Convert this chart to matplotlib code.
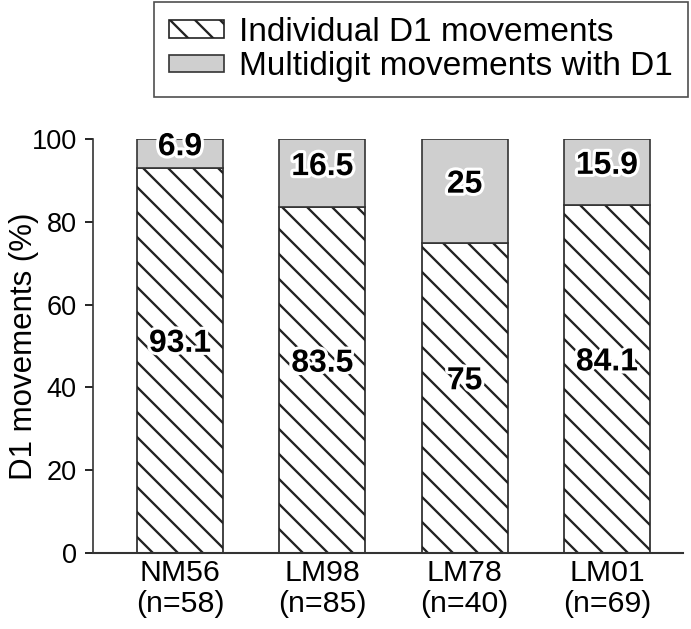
import numpy as np
import matplotlib.pyplot as plt
import matplotlib.patheffects as pe
from matplotlib.patches import Patch

plt.rcParams['font.family'] = ['Liberation Sans', 'DejaVu Sans']
plt.rcParams['hatch.linewidth'] = 1.1
plt.rcParams['hatch.color'] = '#111111'

groups = ["NM56", "LM98", "LM78", "LM01"]
counts = [58, 85, 40, 69]
individual = [93.1, 83.5, 75, 84.1]
multidigit = [6.9, 16.5, 25, 15.9]

DPI = 150
fig = plt.figure(figsize=(691 / DPI, 629 / DPI), dpi=DPI)
ax = fig.add_axes([0.1346, 0.1208, 0.8538, 0.658])

x = np.arange(len(groups))
w = 0.604
ax.bar(x, individual, w, color='white', edgecolor='#222222', hatch='\\\\',
       linewidth=0.8)
ax.bar(x, multidigit, w, bottom=individual, color='#cfcfcf',
       edgecolor='#333333', linewidth=0.8)

# value labels with white outline
stroke = [pe.withStroke(linewidth=3, foreground='white')]
for xi, a, b in zip(x, individual, multidigit):
    ax.text(xi, a / 2 + 4, f"{a:g}", ha='center', va='center',
            fontsize=15.3, fontweight='bold', path_effects=stroke)
    ax.text(xi, a + b / 2 + 1.5, f"{b:g}", ha='center', va='center',
            fontsize=15.3, fontweight='bold', path_effects=stroke)

ax.set_xlim(-0.611, 3.534)
ax.set_ylim(0, 100)
ax.set_yticks(range(0, 101, 20))
ax.set_xticks(x)
ax.set_xticklabels([f"{g}\n(n={n})" for g, n in zip(groups, counts)],
                   linespacing=1.12)
ax.tick_params(axis='x', length=0, pad=3, labelsize=14.5)
ax.tick_params(axis='y', length=3.8, width=0.8, pad=4, labelsize=13)
ax.spines['top'].set_visible(False)
ax.spines['right'].set_visible(False)
ax.spines['left'].set_color('#333333')
ax.spines['bottom'].set_color('#333333')
ax.spines['left'].set_linewidth(0.8)
ax.spines['bottom'].set_linewidth(1.0)
ax.set_ylabel("D1 movements (%)", fontsize=15)
ax.yaxis.set_label_coords(-0.092, 0.5)

handles = [Patch(facecolor='white', edgecolor='#222222', hatch='\\\\', linewidth=0.8),
           Patch(facecolor='#cfcfcf', edgecolor='#333333', linewidth=0.8)]
leg = fig.legend(handles, ["Individual D1 movements", "Multidigit movements with D1"],
                 loc='upper right', bbox_to_anchor=(0.9957, 0.9968), borderaxespad=0,
                 fontsize=16, frameon=True, fancybox=False, edgecolor='#222222',
                 handlelength=1.65, handleheight=0.45, labelspacing=0.1,
                 borderpad=0.45, handletextpad=0.45)
leg.get_frame().set_linewidth(0.8)

fig.savefig("out.png", dpi=DPI)
